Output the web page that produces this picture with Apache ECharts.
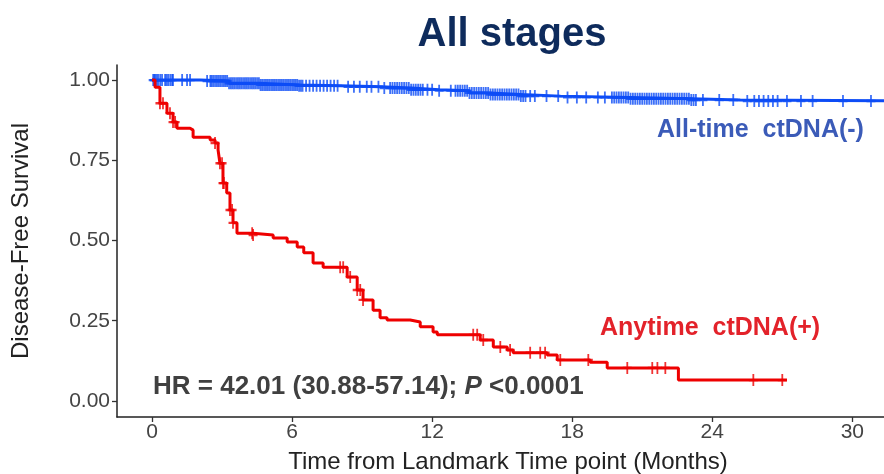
<!DOCTYPE html>
<html lang="en">
<head>
    <meta charset="UTF-8">
    <title>All stages</title>
    <script src="https://cdn.jsdelivr.net/npm/echarts@6/dist/echarts.min.js"></script>
    <style>
        html, body { margin: 0; padding: 0; background: #fff; }
        #chart { width: 884px; height: 474px; }
    </style>
</head>
<body>
    <div id="chart"></div>
    <script>
        // 红线：Anytime ctDNA(+) 生存曲线（阶梯）
        const redTimes = [0, 0.13, 0.34, 0.64, 0.9, 1.07, 1.63, 1.76, 2.49, 2.7, 2.83, 2.91, 3.04, 3.2, 3.34, 3.47, 3.64, 4.33, 5.19, 5.79, 6.22, 6.5, 6.9, 7.33, 8.36, 8.79, 9.04, 9.47, 9.77, 10.07, 11.06, 11.49, 12.04, 12.22, 14.06, 14.62, 15.22, 15.47, 16.93, 17.36, 18.77, 19.5, 22.55, 27.2];
        const redSurv  = [1.0, 0.978, 0.928, 0.897, 0.869, 0.85, 0.844, 0.822, 0.813, 0.804, 0.782, 0.741, 0.679, 0.648, 0.595, 0.555, 0.523, 0.517, 0.508, 0.495, 0.48, 0.462, 0.43, 0.417, 0.386, 0.346, 0.315, 0.283, 0.259, 0.252, 0.246, 0.231, 0.215, 0.206, 0.19, 0.168, 0.159, 0.15, 0.143, 0.128, 0.121, 0.103, 0.065, 0.065];
        const redCensor = [0.34, 0.47, 0.77, 0.9, 0.99, 2.7, 2.91, 3.0, 3.04, 3.08, 3.34, 3.43, 3.47, 4.29, 4.33, 8.06, 8.19, 8.49, 8.79, 8.92, 9.04, 13.76, 13.93, 14.19, 14.92, 15.34, 16.2, 16.63, 16.84, 17.49, 18.69, 20.36, 21.43, 21.65, 21.99, 25.76, 27.0];

        // 蓝线：All-time ctDNA(-)
        const blueTimes = [0, 2.06, 3.3, 4.6, 6.3, 8.06, 9.8, 11.1, 12.3, 13.6, 14.5, 15.8, 17.5, 20.5, 23.1, 25.2, 32];
        const blueSurv  = [1.0, 0.997, 0.99, 0.985, 0.982, 0.979, 0.975, 0.97, 0.967, 0.96, 0.955, 0.95, 0.946, 0.942, 0.938, 0.935, 0.935];
        const blueCensor = [0.05, 0.1, 0.13, 0.2, 0.26, 0.35, 0.43, 0.56, 0.62, 0.69, 0.78, 0.86, 0.9, 1.29, 1.5, 1.63, 2.36,
            2.5, 2.55, 2.62, 2.7, 2.78, 2.85, 2.92, 3.0, 3.08, 3.15, 3.22, 3.3, 3.38, 3.45, 3.52, 3.6, 3.68, 3.75, 3.82, 3.9, 3.98, 4.05, 4.12, 4.2, 4.28, 4.35, 4.42, 4.5, 4.58, 4.65, 4.72, 4.8, 4.88, 4.95, 5.02, 5.1, 5.18, 5.25, 5.32, 5.4, 5.48, 5.55, 5.62, 5.7, 5.78, 5.85, 5.92, 6.0, 6.08, 6.15, 6.22, 6.3, 6.38, 6.45, 6.6, 6.75, 6.9, 7.05, 7.2, 7.35, 7.5, 7.65, 7.8, 7.95,
            8.4, 8.65, 8.9, 9.2, 9.4, 9.7, 9.95, 10.2, 10.3, 10.4, 10.5, 10.6, 10.7, 10.8, 10.9, 11.0, 11.1, 11.2, 11.3, 11.4, 11.5, 11.6, 11.8, 12.0, 12.3,
            12.8, 13.0, 13.1, 13.2, 13.3, 13.4, 13.5, 13.6, 13.7, 13.8, 13.9, 14.0, 14.1, 14.2, 14.3, 14.4, 14.5, 14.6, 14.7, 14.8, 14.9, 15.0, 15.1, 15.2, 15.3, 15.4, 15.5, 15.6, 15.7, 15.8, 15.9, 16.0, 16.2,
            16.4, 16.9, 17.4, 17.8, 18.2, 18.6, 19.1, 19.4, 19.7, 19.8, 19.9, 20.0, 20.1, 20.2, 20.3, 20.4, 20.5, 20.6, 20.7, 20.8, 20.9, 21.0, 21.1, 21.2, 21.3, 21.4, 21.5, 21.6, 21.7, 21.8, 21.9, 22.0, 22.1, 22.2, 22.3, 22.4, 22.5, 22.6, 22.7, 22.8, 22.9, 23.0, 23.1, 23.2, 23.3,
            23.6, 24.3, 24.9, 25.5, 25.8, 26.0, 26.2, 26.4, 26.6, 26.8, 27.2, 27.8, 28.3, 29.6, 30.8];

        const xTicks = [0, 6, 12, 18, 24, 30];
        const yTicks = [0, 0.25, 0.5, 0.75, 1.0];

        const font = 'Liberation Sans, Arial, sans-serif';
        const redColor = '#ee0000';
        const blueColor = '#0d4cf6';
        // 删失标记 "+"
        const plusPath = 'path://M4,0H6V4H10V6H6V10H4V6H0V4H4Z';

        function curve(times, surv) {
            return times.map((t, i) => [t, surv[i]]);
        }
        // 删失点取曲线上对应时间的生存率
        function censorPoints(censor, times, surv) {
            return censor.map(t => {
                let s = surv[0];
                for (let i = 0; i < times.length; i++) {
                    if (times[i] <= t) s = surv[i];
                }
                return [t, s];
            });
        }

        const option = {
            animation: false,
            backgroundColor: '#fff',
            textStyle: { fontFamily: font },
            title: {
                text: 'All stages',
                left: 507,
                top: 10,
                textAlign: 'center',
                textStyle: { fontSize: 40, fontWeight: 'bold', color: '#0e2b5c', fontFamily: font }
            },
            grid: { left: 117, right: -15, top: 65, bottom: 57, outerBoundsMode: 'none' },
            xAxis: {
                type: 'value',
                min: -1.5,
                max: 32,
                name: 'Time from Landmark Time point (Months)',
                nameLocation: 'middle',
                nameGap: 33,
                nameTextStyle: { fontSize: 24, color: '#222', fontFamily: font },
                axisLine: { show: true, onZero: false, lineStyle: { color: '#222', width: 1.5 } },
                axisTick: { show: true, length: 5, customValues: xTicks, lineStyle: { color: '#333', width: 1.3 } },
                axisLabel: { customValues: xTicks, fontSize: 21, color: '#444', margin: 5, fontFamily: font },
                splitLine: { show: false }
            },
            yAxis: {
                type: 'value',
                min: -0.05,
                max: 1.047,
                name: 'Disease-Free Survival',
                nameLocation: 'middle',
                nameGap: 84,
                nameTextStyle: { fontSize: 24, color: '#222', fontFamily: font },
                axisLine: { show: true, onZero: false, lineStyle: { color: '#222', width: 1.5 } },
                axisTick: { show: true, length: 5, customValues: yTicks, lineStyle: { color: '#333', width: 1.3 } },
                axisLabel: {
                    customValues: yTicks, fontSize: 21, color: '#444', margin: 7, fontFamily: font,
                    formatter: v => v.toFixed(2)
                },
                splitLine: { show: false }
            },
            series: [
                {
                    name: 'All-time ctDNA(-)',
                    type: 'line',
                    step: 'end',
                    data: curve(blueTimes, blueSurv),
                    showSymbol: false,
                    lineStyle: { color: blueColor, width: 3 },
                    z: 3
                },
                {
                    type: 'scatter',
                    data: censorPoints(blueCensor, blueTimes, blueSurv),
                    symbol: plusPath,
                    symbolSize: [9, 12],
                    itemStyle: { color: blueColor },
                    z: 3
                },
                {
                    name: 'Anytime ctDNA(+)',
                    type: 'line',
                    step: 'end',
                    data: curve(redTimes, redSurv),
                    showSymbol: false,
                    lineStyle: { color: redColor, width: 3 },
                    z: 4
                },
                {
                    type: 'scatter',
                    data: censorPoints(redCensor, redTimes, redSurv),
                    symbol: plusPath,
                    symbolSize: [9, 12],
                    itemStyle: { color: redColor },
                    z: 4
                }
            ],
            graphic: [
                {
                    type: 'text', left: 657, top: 118,
                    style: { text: 'All-time  ctDNA(-)', fontSize: 25, fontWeight: 'bold', fill: '#3b5bb8', fontFamily: font }
                },
                {
                    type: 'text', left: 600, top: 316,
                    style: { text: 'Anytime  ctDNA(+)', fontSize: 25, fontWeight: 'bold', fill: '#e3222a', fontFamily: font }
                },
                {
                    type: 'text', left: 153, top: 374,
                    style: {
                        text: '{b|HR = 42.01 (30.88-57.14); }{i|P}{b| <0.0001}',
                        rich: {
                            b: { fontSize: 26, fontWeight: 'bold', fill: '#404040', fontFamily: font },
                            i: { fontSize: 26, fontWeight: 'bold', fontStyle: 'italic', fill: '#404040', fontFamily: font }
                        }
                    }
                }
            ]
        };

        const chartView = echarts.init(document.querySelector('#chart'));
        chartView.setOption(option);
    </script>
</body>
</html>
